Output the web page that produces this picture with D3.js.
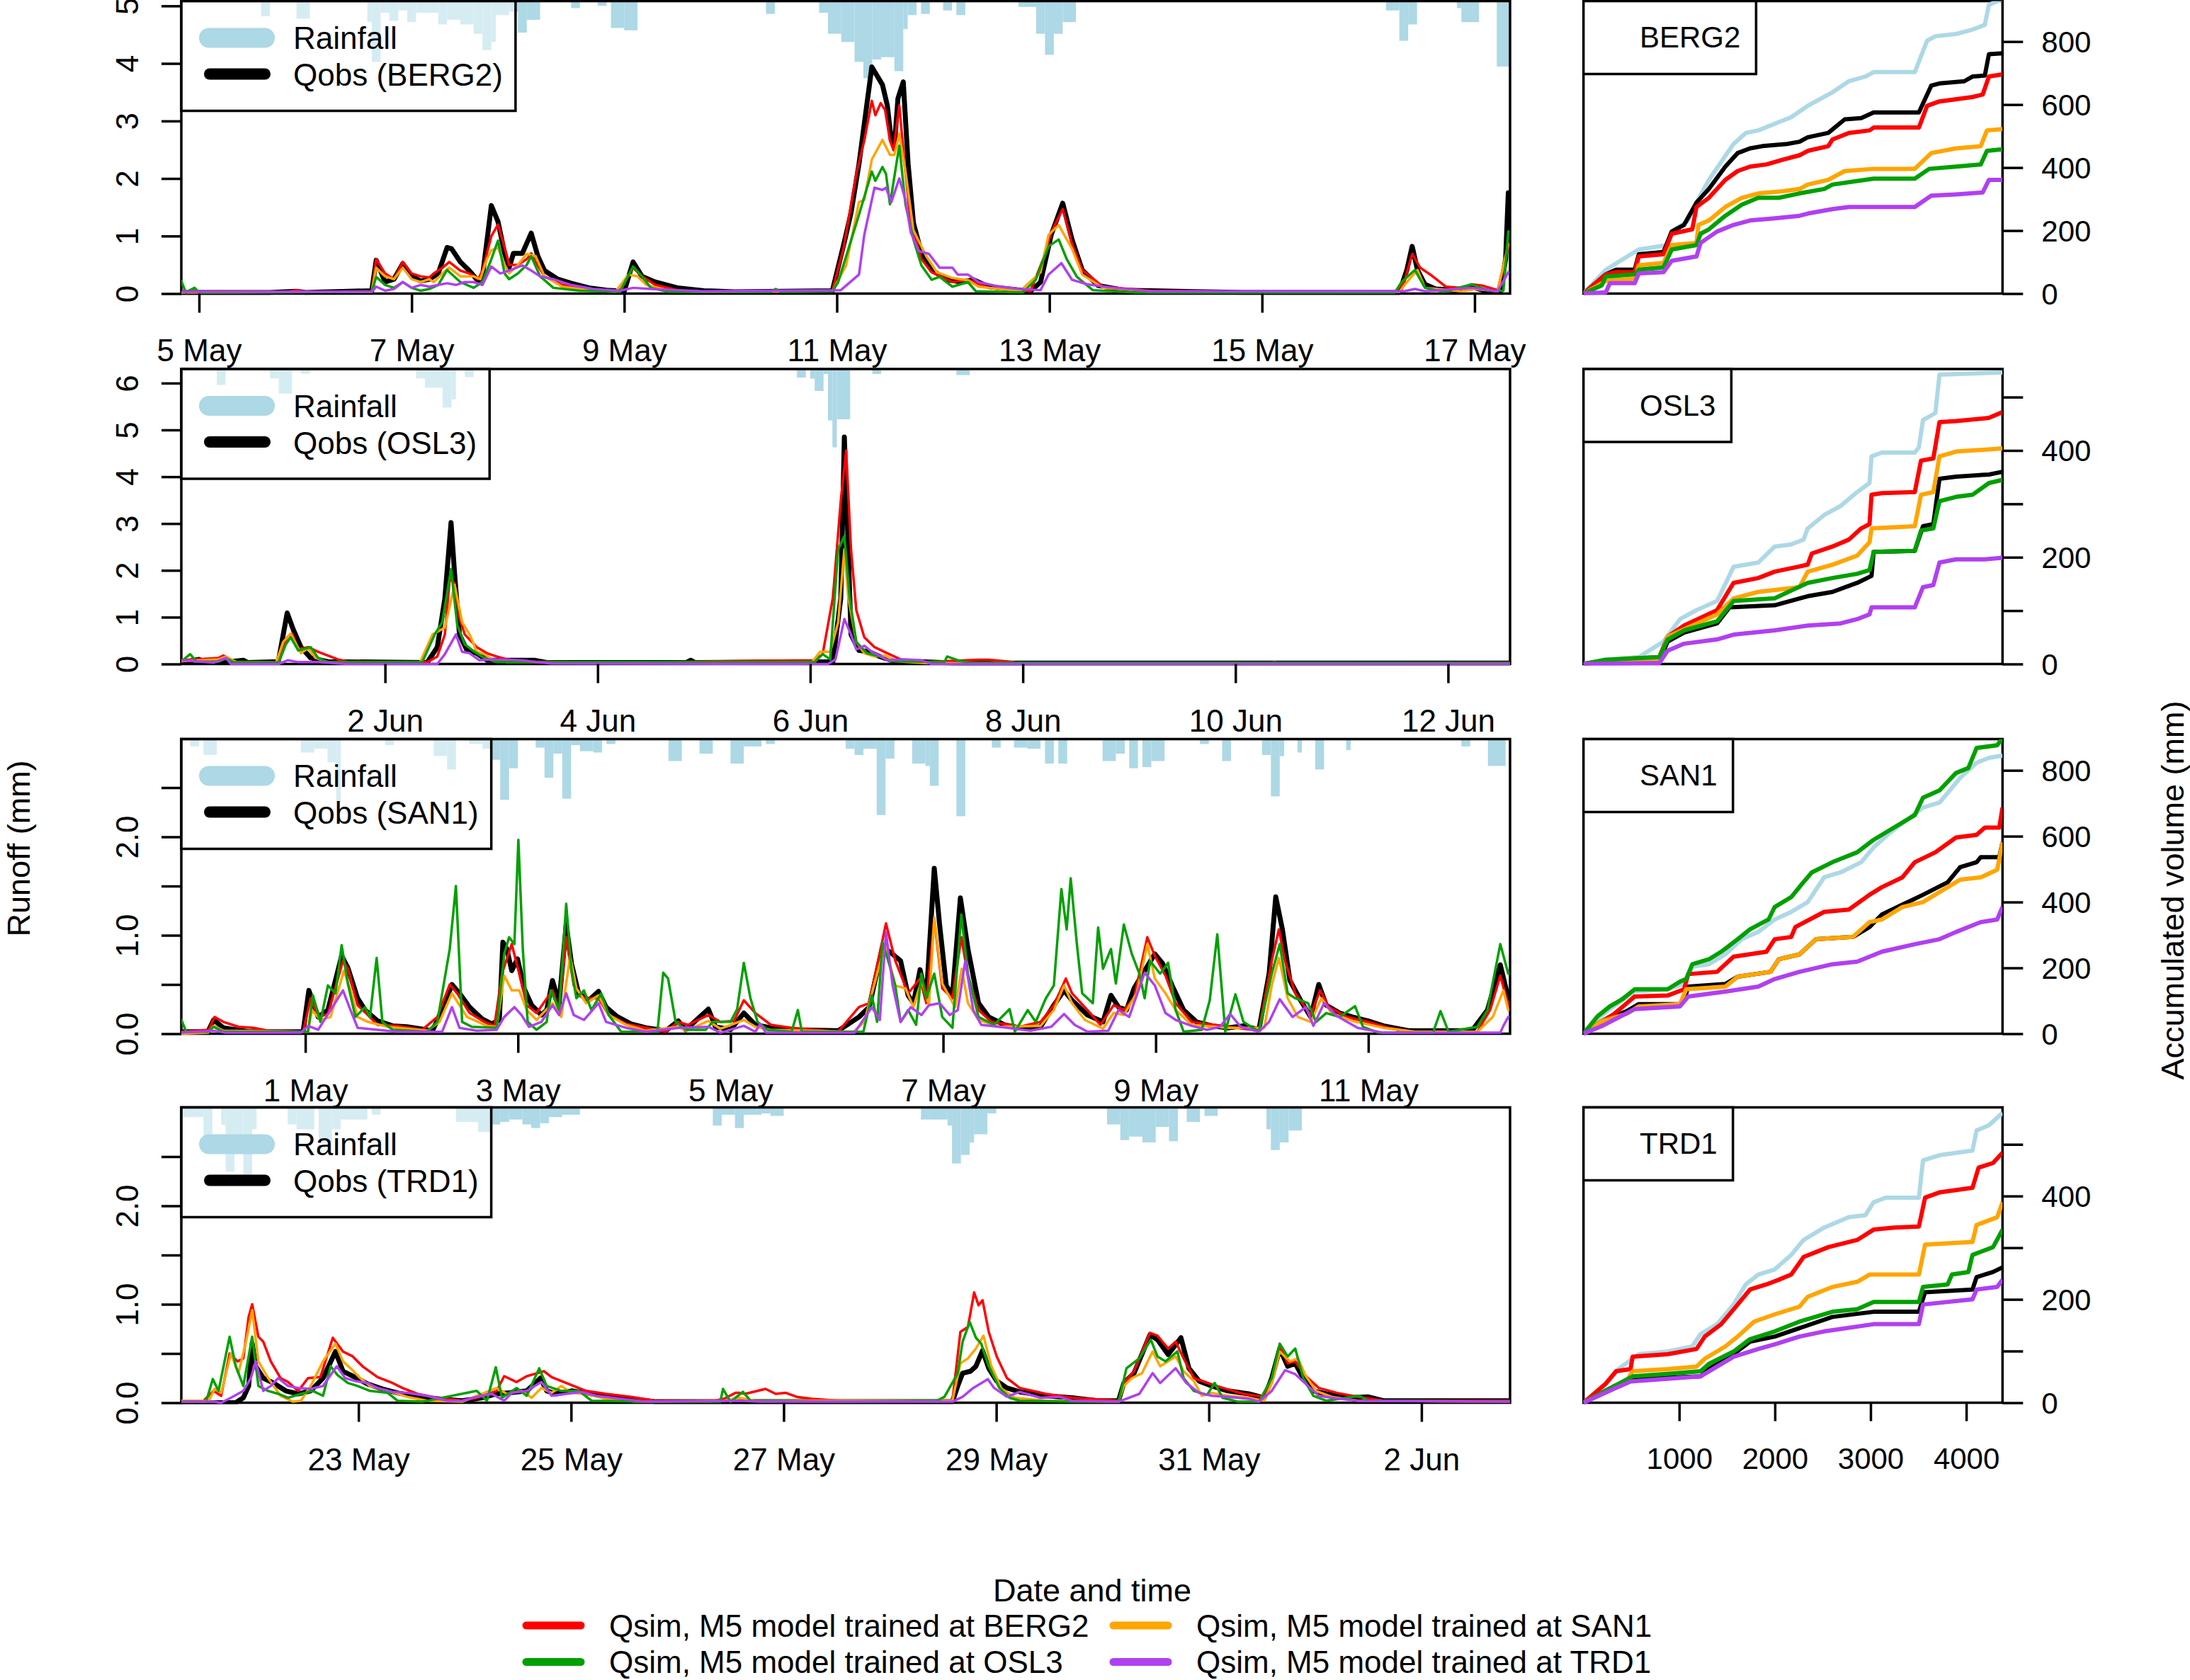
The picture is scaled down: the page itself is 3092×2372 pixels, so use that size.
<!DOCTYPE html>
<html>
<head>
<meta charset="utf-8">
<script src="https://cdnjs.cloudflare.com/ajax/libs/d3/7.8.5/d3.min.js"></script>
<style>
  body { margin: 0; background: #fff; }
  text { font-family: "Liberation Sans", Arial, sans-serif; fill: #000; }
</style>
</head>
<body>
<div id="chart"></div>
<script>
// stations, time windows (300 hourly steps each) and tick dates
var stations = ["BERG2", "OSL3", "SAN1", "TRD1"];
var startTimes = ["2017-05-04T20:00:00Z", "2017-05-31T02:00:00Z", "2017-04-29T20:00:00Z", "2017-05-21T08:00:00Z"];
var dayTicks = [
  ["2017-05-05", "2017-05-07", "2017-05-09", "2017-05-11", "2017-05-13", "2017-05-15", "2017-05-17"],
  ["2017-06-02", "2017-06-04", "2017-06-06", "2017-06-08", "2017-06-10", "2017-06-12"],
  ["2017-05-01", "2017-05-03", "2017-05-05", "2017-05-07", "2017-05-09", "2017-05-11"],
  ["2017-05-23", "2017-05-25", "2017-05-27", "2017-05-29", "2017-05-31", "2017-06-02"]
];
var runoffMax = [5.084, 6.301, 2.993, 3.0];
var runoffTicks = [[0, 1, 2, 3, 4, 5], [0, 1, 2, 3, 4, 5, 6], [0, 0.5, 1, 1.5, 2, 2.5], [0, 0.5, 1, 1.5, 2, 2.5]];
var cumMax = [928.6, 552.6, 895, 571.6];
var cumTicks = [[0, 200, 400, 600, 800], [0, 100, 200, 300, 400, 500], [0, 200, 400, 600, 800], [0, 100, 200, 300, 400, 500]];
var hourTicks = [1000, 2000, 3000, 4000];
var simLabels = ["Qsim, M5 model trained at BERG2", "Qsim, M5 model trained at OSL3", "Qsim, M5 model trained at SAN1", "Qsim, M5 model trained at TRD1"];

// rainfall bars: [from hour, to hour, mm]
var berg2Rain = [[18,20,1.3],[26,29,1.5],[42,43,1.8],[43,45,5.2],[45,47,1.0],[47,49,1.7],[49,51,0.8],[51,53,1.8],[53,58,1.0],[58,60,2.0],[60,63,1.6],[63,66,2.0],[66,68,2.8],[68,70,4.2],[70,71,3.5],[71,74,1.2],[74,76,0.9],[76,78,2.7],[78,81,1.6],[88,90,0.6],[94,96,0.4],[97,100,2.3],[100,103,2.5],[132,134,1.1],[144,146,1.0],[146,149,2.8],[149,152,3.5],[152,154,5.2],[154,156,6.6],[156,158,5.0],[158,161,4.8],[161,163,6.0],[163,164,2.4],[164,166,1.2],[167,169,1.1],[172,174,0.8],[175,177,1.2],[189,193,0.5],[193,195,2.8],[195,197,4.6],[197,199,2.8],[199,202,1.8],[272,275,0.8],[275,277,3.4],[277,279,2.0],[288,289,0.6],[289,293,1.8],[297,300,5.6]];
var osl3Rain = [[8,10,1.36],[20,22,0.8],[22,25,2.1],[27,29,0.4],[53,55,0.8],[55,59,1.6],[59,61,3.3],[61,62,2.6],[64,66,0.7],[139,141,0.73],[142,143,0.83],[143,145,1.88],[145,146,0.42],[146,147,4.4],[147,148,6.7],[148,151,4.3],[156,158,0.42],[175,178,0.52]];
var san1Rain = [[2,4,0.63],[5,8,1.36],[27,30,1.15],[30,33,0.83],[33,35,1.98],[35,36,5.4],[46,48,0.52],[57,60,1.46],[60,62,2.6],[65,68,0.42],[68,70,0.83],[70,72,1.77],[72,74,5.2],[74,76,2.5],[80,82,0.73],[82,84,3.3],[84,86,1.25],[86,88,5.1],[88,90,0.52],[90,93,1.04],[93,95,1.15],[96,98,0.42],[110,113,1.88],[117,120,1.25],[124,127,2.1],[127,131,0.63],[132,134,0.42],[150,152,0.83],[152,154,1.36],[154,157,0.83],[157,159,6.5],[159,161,1.67],[165,168,2.1],[168,169,2.3],[169,171,4.0],[175,177,6.6],[183,185,0.73],[188,191,0.73],[191,194,0.83],[195,197,2.1],[198,200,2.1],[208,211,1.88],[211,213,1.25],[214,216,2.5],[217,219,2.4],[219,222,1.88],[230,232,0.42],[235,237,1.88],[244,246,1.36],[246,248,4.9],[248,249,1.46],[252,253,1.15],[256,258,2.6],[263,264,0.94],[289,291,0.63],[295,299,2.3]];
var trd1Rain = [[0,5,0.83],[5,7,2.7],[9,10,1.5],[10,12,5.5],[12,14,3.3],[14,16,6.05],[16,17,1.88],[24,26,1.46],[26,30,1.88],[31,34,3.0],[34,36,1.88],[36,42,1.04],[43,45,0.63],[62,67,1.25],[67,70,2.1],[70,72,1.46],[72,74,1.25],[74,77,1.04],[77,79,1.46],[79,81,1.77],[81,83,1.36],[83,86,0.83],[86,90,0.63],[120,122,1.56],[122,125,0.63],[125,127,1.77],[127,131,0.63],[131,133,0.52],[133,136,0.73],[167,169,1.04],[169,173,1.04],[173,174,1.56],[174,176,4.8],[176,178,4.07],[178,179,3.0],[179,182,2.3],[182,184,0.52],[209,212,1.46],[212,214,2.8],[214,217,2.5],[217,220,3.0],[220,223,1.67],[223,225,2.9],[227,230,1.25],[231,234,0.73],[245,246,1.88],[246,248,3.65],[248,250,3.0],[250,253,1.98]];

// runoff series: [hour, mm]
var berg2Obs = [[0,0.02],[20,0.02],[26,0.04],[28,0.02],[43,0.05],[44,0.58],[46,0.2],[48,0.25],[50,0.52],[52,0.3],[54,0.22],[56,0.25],[58,0.35],[60,0.8],[61,0.78],[63,0.55],[65,0.4],[67,0.22],[68,0.3],[70,1.53],[71.5,1.25],[73,0.7],[74,0.45],[75,0.7],[77,0.7],[79,1.05],[80.5,0.65],[82,0.4],[85,0.25],[88,0.18],[92,0.1],[96,0.06],[100,0.04],[102,0.55],[104,0.3],[107,0.2],[112,0.1],[118,0.05],[125,0.03],[147,0.05],[149.7,0.9],[151.2,1.4],[153,2.25],[155.9,3.94],[158.3,3.63],[159.4,3.27],[160.3,2.66],[161,2.57],[161.8,3.39],[163,3.68],[164.1,2.25],[165.3,1.23],[167.1,0.7],[169.4,0.41],[172.9,0.24],[176.4,0.2],[178.8,0.24],[182.3,0.12],[187,0.08],[191.7,0.04],[194,0.2],[196.4,1.02],[199,1.57],[201.1,0.94],[203.4,0.41],[207,0.14],[212.8,0.06],[224.5,0.04],[240,0.02],[275,0.02],[276.7,0.41],[277.9,0.82],[279.1,0.41],[280.8,0.16],[283.2,0.08],[287.9,0.06],[292,0.1],[294.9,0.04],[297.8,0.04],[299,0.6],[299.6,1.75]];
var berg2SimBERG2 = [[0,0.03],[24,0.03],[26,0.06],[28,0.03],[43,0.04],[44,0.6],[46,0.35],[48,0.25],[50,0.55],[52,0.35],[54,0.3],[56,0.28],[57,0.35],[59,0.45],[60.5,0.55],[63,0.4],[65,0.35],[67,0.25],[68,0.4],[70,1.0],[71.5,1.2],[73,0.8],[74,0.5],[76,0.5],[78,0.6],[79,0.7],[80,0.55],[82,0.3],[86,0.15],[90,0.1],[95,0.06],[99,0.04],[102,0.45],[104,0.3],[107,0.15],[112,0.06],[118,0.03],[147,0.05],[149.5,0.78],[152.4,2.08],[154.2,2.66],[155.9,3.35],[156.7,3.1],[157.9,3.31],[158.9,3.19],[160,2.66],[160.8,2.49],[162.1,3.27],[163.3,2.25],[164.7,1.23],[167.1,0.6],[169.4,0.37],[174.1,0.2],[177.6,0.24],[182.3,0.1],[191.7,0.04],[194.6,0.6],[196.4,1.06],[199,1.47],[201.1,0.86],[203.4,0.41],[208.1,0.12],[218.7,0.05],[240,0.03],[274,0.03],[276.1,0.2],[277.9,0.69],[279.7,0.45],[282,0.33],[285.5,0.12],[289,0.1],[291.4,0.16],[293.7,0.14],[297.2,0.06],[299.6,0.82]];
var berg2SimSAN1 = [[0,0.02],[43,0.03],[44,0.45],[46,0.3],[48,0.25],[50,0.45],[52,0.25],[54,0.2],[56,0.25],[57,0.2],[59,0.35],[60.5,0.45],[63,0.3],[66,0.3],[67.5,0.25],[69,0.6],[70,0.75],[71.5,0.8],[73,0.5],[74,0.35],[76,0.5],[78,0.69],[80,0.65],[82,0.3],[86,0.12],[92,0.06],[98,0.03],[101,0.33],[103,0.3],[105,0.15],[110,0.05],[116,0.03],[147,0.04],[150.1,0.49],[153,1.59],[154.2,1.63],[155.9,2.33],[158.3,2.67],[160,2.41],[161,2.41],[162.1,2.78],[163.5,2.12],[165.3,1.1],[168.2,0.65],[170.6,0.37],[174.1,0.27],[177.6,0.23],[180,0.12],[189.3,0.04],[194,0.37],[195.8,1.02],[198.1,1.19],[201.1,0.78],[203.4,0.33],[208.1,0.1],[220,0.03],[275,0.03],[276.7,0.2],[279.1,0.41],[280.8,0.1],[289,0.04],[292,0.08],[297.2,0.04],[299.6,0.86]];
var berg2SimOSL3 = [[0,0.22],[1,0.02],[3,0.1],[4,0.02],[43,0.03],[44,0.29],[46,0.15],[48,0.1],[50,0.2],[52,0.1],[54,0.05],[56,0.08],[58,0.15],[60,0.41],[63,0.2],[66,0.1],[68,0.2],[70,0.6],[71.5,0.92],[73,0.35],[74,0.25],[76,0.35],[78,0.5],[79,0.65],[81,0.3],[84,0.1],[90,0.05],[99,0.03],[102,0.47],[104,0.3],[106,0.1],[110,0.03],[133,0.03],[134.2,0.08],[135.5,0.03],[147,0.04],[148.3,0.2],[153,1.37],[155.9,2.12],[156.7,1.96],[158.3,2.2],[159.1,2.08],[160,1.55],[162.1,2.57],[163.5,1.55],[165.3,0.94],[167.1,0.49],[169.4,0.24],[171.2,0.29],[174.1,0.12],[177.6,0.2],[179.4,0.04],[190,0.02],[192.9,0.24],[195.8,0.82],[198.1,0.94],[199.9,0.6],[202.2,0.29],[205.8,0.06],[215,0.02],[274,0.02],[275.5,0.2],[278.5,0.41],[280.8,0.1],[285,0.03],[291.4,0.16],[294.9,0.05],[298.5,0.05],[299.6,1.08]];
var berg2SimTRD1 = [[0,0.03],[43,0.03],[44,0.12],[46,0.05],[48,0.08],[50,0.2],[52,0.1],[54,0.15],[56,0.12],[58,0.15],[60,0.18],[62,0.15],[64,0.2],[66,0.2],[68,0.15],[70,0.47],[72,0.35],[74,0.4],[77,0.49],[79,0.4],[81,0.3],[84,0.25],[88,0.15],[93,0.08],[99,0.05],[102,0.1],[106,0.08],[112,0.06],[118,0.04],[148.9,0.06],[153,0.33],[154.2,1.02],[156.5,1.84],[158.3,1.8],[159.1,1.84],[160.3,1.59],[162.1,2.0],[163.5,1.63],[164.7,1.06],[166.5,0.74],[168.8,0.69],[171.2,0.45],[174.1,0.45],[175.3,0.33],[177.6,0.33],[180,0.2],[184.7,0.12],[189.3,0.08],[194,0.06],[195.8,0.33],[198.7,0.53],[201.1,0.24],[204.6,0.16],[210.5,0.1],[218.7,0.04],[276.1,0.04],[278.5,0.08],[280.8,0.04],[291.4,0.1],[297.2,0.04],[299.6,0.37]];

var osl3Obs = [[0,0.03],[4,0.1],[5,0.03],[8,0.08],[9,0.03],[14,0.08],[15,0.03],[21.9,0.05],[23.9,1.09],[25.3,0.73],[27,0.36],[29.2,0.13],[33.1,0.05],[55.5,0.03],[57.8,0.36],[59.5,1.4],[60.9,3.02],[61.7,1.93],[62.8,0.63],[64.5,0.29],[66.7,0.23],[69,0.08],[75.7,0.08],[79.7,0.08],[82.5,0.03],[114,0.03],[115,0.08],[116,0.03],[147.1,0.05],[148.9,1.41],[149.7,4.85],[150.4,2.97],[151.2,0.63],[153,0.29],[155.3,0.26],[157.7,0.16],[161.2,0.05],[167,0.05],[175,0.02],[300,0.02]];
var osl3SimBERG2 = [[0,0.08],[8.4,0.13],[9.5,0.18],[11.8,0.05],[21.9,0.03],[23.9,0.57],[25,0.65],[26.4,0.31],[28.6,0.36],[30.9,0.26],[33.1,0.18],[35.3,0.1],[37.6,0.05],[55.5,0.04],[57.8,0.16],[59.5,0.63],[60.6,1.82],[61.7,1.72],[62.8,0.99],[64,0.63],[66.7,0.36],[69,0.23],[71.2,0.16],[73.5,0.1],[78,0.05],[100,0.03],[143,0.08],[144.8,0.21],[147.1,1.41],[148.9,3.49],[150.1,4.56],[151.2,2.45],[152.4,1.15],[154.2,0.57],[156.5,0.36],[159.4,0.23],[162.4,0.1],[168.2,0.04],[180,0.09],[182.3,0.09],[185.8,0.06],[189.3,0.02],[246,0.02],[246.8,0.04],[247.6,0.02],[300,0.02]];
var osl3SimSAN1 = [[0,0.06],[8.4,0.1],[10.1,0.16],[12.4,0.04],[21.4,0.03],[23,0.47],[24.7,0.65],[27,0.23],[28.6,0.34],[30.3,0.13],[33.1,0.04],[53.9,0.04],[56.7,0.63],[59.5,0.78],[61.7,1.69],[63.4,0.89],[65.1,0.63],[66.7,0.26],[68.4,0.21],[70.1,0.1],[73.5,0.04],[142.4,0.04],[144.2,0.26],[146.5,0.26],[148.3,0.89],[149.7,2.45],[150.6,1.41],[152.4,0.47],[154.2,0.23],[156.5,0.16],[158.9,0.18],[161.2,0.06],[168.2,0.02],[300,0.02]];
var osl3SimOSL3 = [[0,0.08],[0.6,0.1],[2,0.21],[3.4,0.05],[8.4,0.05],[10.1,0.12],[11.8,0.04],[22,0.03],[23.6,0.42],[24.7,0.57],[26.4,0.29],[29.2,0.36],[30.9,0.13],[33.1,0.04],[54.4,0.04],[57.2,0.63],[58.9,0.89],[60.9,2.03],[62.3,0.83],[64,0.42],[66.2,0.26],[68.4,0.13],[71.2,0.04],[143,0.04],[144.8,0.21],[146.5,0.1],[148.3,2.45],[149.7,2.73],[150.9,1.41],[152.4,0.47],[154.8,0.23],[157.7,0.16],[160,0.06],[172.3,0.04],[172.9,0.16],[175.3,0.08],[177.6,0.03],[300,0.02]];
var osl3SimTRD1 = [[0,0.08],[7.3,0.03],[10.1,0.13],[11.2,0.0],[21.9,0.0],[24.1,0.08],[26.4,0.04],[30.9,0.04],[37.6,0.0],[57.8,0.0],[59.5,0.21],[62,0.63],[63.4,0.26],[65.1,0.23],[67.3,0.08],[70.1,0.1],[73.5,0.09],[76.9,0.08],[80.2,0.04],[83.6,0.01],[146,0.0],[147.7,0.1],[149.7,0.96],[151.2,0.63],[152.4,0.31],[154.2,0.39],[155.9,0.26],[157.7,0.18],[159.4,0.08],[163.5,0.1],[167,0.08],[169.4,0.0],[300,0.0]];

var san1Obs = [[0,0.02],[6,0.02],[7.3,0.14],[9.5,0.06],[15.2,0.02],[27.5,0.02],[28.8,0.44],[30.9,0.17],[33.1,0.24],[36.2,0.79],[37.6,0.67],[39.8,0.36],[41.5,0.24],[44.3,0.13],[47.7,0.08],[51,0.07],[56.7,0.03],[58.9,0.24],[61.1,0.5],[62.8,0.41],[65.1,0.27],[67.9,0.15],[70.1,0.1],[71.8,0.14],[72.6,0.93],[73.5,0.86],[74.6,0.64],[75.9,0.76],[77.4,0.46],[79.1,0.29],[81.3,0.19],[82.5,0.24],[83.8,0.54],[85.3,0.31],[86.9,1.11],[88.1,0.71],[89.7,0.41],[92,0.34],[94.2,0.43],[95.9,0.27],[98.2,0.18],[101.5,0.1],[104.9,0.06],[109.4,0.03],[112.2,0.13],[113.9,0.04],[119,0.25],[120.6,0.07],[124,0.04],[127,0.21],[129.6,0.09],[133.1,0.06],[138.9,0.04],[148.3,0.03],[153,0.17],[155.3,0.27],[158.3,0.88],[160,0.83],[162.4,0.74],[164.1,0.39],[165.3,0.31],[166.8,0.65],[168.2,0.36],[170,1.68],[171.2,1.11],[172.7,0.49],[174.1,0.39],[175.9,1.38],[177.6,0.86],[180,0.31],[182.3,0.17],[185.8,0.09],[189.3,0.06],[194,0.07],[197,0.29],[199.3,0.44],[201.1,0.34],[204.6,0.19],[208.1,0.12],[209.9,0.39],[211.6,0.27],[213.4,0.24],[215.1,0.46],[217.5,0.64],[219.8,0.81],[221.6,0.71],[224,0.46],[226.3,0.24],[229.2,0.12],[232.7,0.08],[236.3,0.06],[239.8,0.08],[243.3,0.04],[245.6,0.61],[247.1,1.39],[248.6,1.06],[250.3,0.54],[252.7,0.34],[255,0.17],[256.8,0.5],[258.5,0.29],[261.5,0.21],[264.4,0.17],[267.9,0.13],[271.4,0.08],[277.3,0.03],[291.4,0.03],[294.9,0.24],[297.8,0.7],[299.6,0.36]];
var san1SimBERG2 = [[0,0.02],[6.2,0.04],[7.5,0.17],[9.5,0.12],[12.9,0.07],[16.3,0.06],[19.6,0.03],[27.5,0.02],[29.2,0.36],[30.9,0.17],[33.1,0.2],[36.5,0.74],[37.6,0.66],[39.8,0.29],[42.1,0.19],[44.3,0.09],[48.8,0.08],[54.4,0.04],[57.8,0.17],[60.6,0.5],[62.3,0.41],[65.1,0.21],[68.4,0.12],[70.7,0.08],[72.4,0.61],[74.6,0.91],[76.3,0.61],[78,0.29],[80.2,0.21],[83.8,0.44],[85.3,0.24],[86.9,0.98],[88.6,0.49],[90.9,0.36],[94.2,0.36],[96.5,0.19],[100.4,0.1],[104.9,0.06],[109.4,0.02],[112.2,0.12],[114.4,0.09],[119,0.19],[121.7,0.12],[124.8,0.13],[127,0.34],[129.6,0.21],[133.1,0.09],[137.8,0.06],[148.3,0.02],[153,0.27],[155.3,0.31],[159.1,1.12],[161.2,0.74],[164.1,0.41],[166.8,0.56],[168.2,0.31],[170,1.16],[171.8,0.46],[174.1,0.36],[176.1,0.98],[177.6,0.59],[180,0.24],[182.9,0.12],[189.3,0.07],[194,0.12],[197,0.29],[199.7,0.56],[201.1,0.41],[204.6,0.24],[207.5,0.09],[210.5,0.29],[212.8,0.24],[215.1,0.36],[218.1,0.98],[219.8,0.79],[222.2,0.59],[224.5,0.31],[228.1,0.12],[236.3,0.07],[243.3,0.03],[246.2,0.74],[247.8,1.06],[249.2,0.74],[251.5,0.41],[255,0.19],[257.1,0.44],[259.1,0.27],[263.2,0.17],[267.9,0.12],[272.6,0.06],[278.5,0.02],[292.6,0.02],[295.5,0.24],[297.8,0.59],[299.6,0.29]];
var san1SimSAN1 = [[0,0.0],[6,0.01],[7.3,0.08],[9.5,0.03],[28.6,0.02],[29.5,0.24],[31.4,0.14],[33.7,0.17],[36.7,0.64],[38.1,0.46],[39.8,0.17],[42.1,0.12],[46.6,0.07],[55.5,0.03],[58.3,0.12],[61.1,0.41],[62.8,0.29],[64.5,0.17],[69,0.08],[71.2,0.07],[72.9,0.59],[74.6,0.44],[76.3,0.44],[78,0.24],[80.2,0.14],[83.8,0.31],[85.8,0.17],[87.8,0.79],[89.2,0.46],[91.4,0.31],[94.2,0.39],[96.5,0.19],[100.4,0.09],[104.9,0.03],[112.2,0.07],[114,0.03],[119,0.13],[121.7,0.05],[127,0.14],[129.6,0.07],[133,0.04],[151.8,0.02],[154.2,0.12],[158.9,0.91],[161.2,0.49],[163.5,0.46],[165.3,0.27],[167.1,0.54],[168.8,0.29],[170,1.18],[171.8,0.51],[174.7,0.27],[176.2,0.66],[177.6,0.31],[180,0.14],[184.7,0.07],[194,0.08],[197,0.24],[199.3,0.49],[201.1,0.31],[204,0.14],[208.1,0.05],[210.5,0.21],[212.8,0.19],[215.7,0.41],[218.1,0.91],[219.8,0.56],[222.2,0.41],[224.5,0.24],[228.1,0.09],[236.3,0.06],[244.5,0.06],[246.2,0.49],[247.8,0.77],[249.8,0.36],[252.1,0.17],[255,0.12],[257.4,0.36],[259.7,0.21],[264.4,0.13],[271.4,0.06],[278.5,0.02],[292.6,0.02],[296.1,0.17],[298.5,0.44],[299.6,0.24]];
var san1SimOSL3 = [[0,0.14],[1.1,0.02],[6,0.02],[7.3,0.07],[9.5,0.02],[28.6,0.02],[29.7,0.39],[31.4,0.12],[33.1,0.49],[34.8,0.41],[36.2,0.9],[37.6,0.51],[39.3,0.17],[41.5,0.27],[42.6,0.17],[44.1,0.77],[45.4,0.12],[47.7,0.04],[55.5,0.02],[57.8,0.12],[60.6,0.86],[62,1.5],[63.4,0.12],[65.6,0.07],[71.2,0.06],[72.9,0.81],[74,0.98],[75.2,0.91],[76.1,1.97],[77.1,0.86],[78.2,0.12],[80.2,0.04],[82.5,0.12],[83.4,0.44],[85.3,0.24],[86.9,1.32],[88.1,0.64],[89.2,0.36],[90.9,0.44],[92.6,0.24],[94.8,0.41],[96.5,0.19],[99.3,0.02],[107.5,0.02],[108.8,0.62],[109.9,0.56],[111.6,0.12],[113.9,0.04],[118.4,0.04],[120,0.12],[124,0.12],[125.5,0.25],[127,0.72],[128.5,0.36],[130.1,0.12],[132.3,0.04],[137.8,0.02],[139.2,0.24],[140.1,0.02],[154,0.02],[155.9,0.39],[157.1,0.12],[158.3,0.93],[159.8,0.71],[161.2,0.49],[162.4,0.12],[164.1,0.24],[165.9,0.09],[167.1,0.61],[168.2,0.36],[170,0.61],[171.8,0.17],[174.1,0.06],[176.1,1.21],[177.6,0.61],[180,0.17],[183.5,0.09],[187,0.25],[188.2,0.02],[191.1,0.24],[192.9,0.12],[195.2,0.36],[197,0.49],[198.7,1.47],[199.9,1.06],[200.8,1.58],[202.2,0.91],[203.4,0.41],[205.8,0.31],[207,1.08],[208.1,0.66],[209.9,0.86],[211,0.51],[212.8,1.11],[214.6,0.81],[216.3,0.61],[217.5,0.36],[218.7,0.74],[221,0.61],[222.8,0.72],[224.5,0.24],[226.3,0.02],[230.4,0.04],[232.2,0.34],[233.9,1.01],[235.7,0.02],[238,0.4],[239.8,0.12],[243.3,0.02],[246.2,0.61],[248,0.91],[249.8,0.41],[251.5,0.36],[254.4,0.31],[256.2,0.12],[258.5,0.21],[261.5,0.17],[265,0.28],[266.8,0.07],[270.3,0.01],[282.6,0.01],[284.3,0.23],[286.1,0.02],[292.6,0.07],[294.9,0.24],[297.8,0.91],[299.6,0.61]];
var san1SimTRD1 = [[0,0.01],[7.3,0.03],[10,0.01],[27,0.01],[28.6,0.08],[30.9,0.04],[36.5,0.44],[38.2,0.24],[39.8,0.06],[44.3,0.04],[48.8,0.02],[58.9,0.02],[61.1,0.27],[62.8,0.06],[66.7,0.03],[71.2,0.04],[72.9,0.17],[75.2,0.27],[76.8,0.19],[78.5,0.07],[81.3,0.12],[83.8,0.29],[85.3,0.19],[86.9,0.41],[88.6,0.19],[90.9,0.14],[94.2,0.31],[95.9,0.12],[100.4,0.06],[104.9,0.02],[112.2,0.06],[119,0.07],[121.7,0.01],[127,0.08],[129.6,0.02],[130.7,0.1],[132,0.01],[152,0.01],[155.9,0.27],[157.7,0.14],[159.1,1.03],[160.6,0.49],[162.4,0.12],[164.7,0.27],[167.1,0.19],[168.8,0.29],[171.2,0.31],[173.5,0.19],[175.3,0.24],[177,0.74],[178.8,0.24],[180.6,0.09],[184.7,0.07],[191.7,0.03],[196.4,0.07],[199.3,0.2],[201.7,0.09],[204.6,0.02],[209.3,0.03],[211.6,0.24],[214,0.17],[217.5,0.62],[219.8,0.49],[222.2,0.21],[224.5,0.14],[228.1,0.08],[231.6,0.04],[234.5,0.07],[236.8,0.2],[239.2,0.07],[243.3,0.02],[245.6,0.12],[248,0.35],[250.9,0.17],[253.9,0.27],[255.6,0.08],[258,0.31],[260.9,0.18],[265.6,0.06],[271.4,0.01],[297.8,0.01],[298.5,0.08],[299.6,0.17]];

var trd1Obs = [[0,0],[12.3,0],[14,0.05],[15.2,0.17],[16,0.6],[16.8,0.37],[18.5,0.25],[20.8,0.2],[23.6,0.12],[26.4,0.09],[29.2,0.12],[32,0.25],[34.8,0.52],[36.5,0.32],[38.7,0.27],[42.1,0.19],[45.4,0.14],[48.8,0.1],[53.3,0.06],[57.8,0.04],[63.4,0.02],[67.9,0.05],[71.2,0.09],[74,0.1],[78,0.12],[81.1,0.25],[82.5,0.12],[84.7,0.09],[88.1,0.12],[91.4,0.1],[95.9,0.06],[101.5,0.04],[107.1,0.01],[174.1,0.01],[175.3,0.17],[176.4,0.3],[178.2,0.32],[179.4,0.37],[180.9,0.53],[182.3,0.35],[184.1,0.22],[186.4,0.15],[189.3,0.11],[195.2,0.07],[201.1,0.05],[207,0.02],[211.6,0.02],[212.8,0.2],[215.1,0.3],[218.7,0.69],[220.4,0.64],[222.8,0.49],[225.7,0.66],[227.5,0.35],[229.8,0.22],[232.7,0.17],[236.3,0.12],[241,0.09],[244.5,0.05],[246.2,0.25],[248,0.55],[249.8,0.37],[251.5,0.4],[253.3,0.25],[255.6,0.12],[258.5,0.09],[263.2,0.05],[267.9,0.06],[271.4,0.02],[300,0.02]];
var trd1SimBERG2 = [[0,0.02],[5,0.02],[7.3,0.12],[9,0.07],[10.9,0.5],[12.7,0.42],[14,0.45],[15.2,0.87],[16,1.0],[17.4,0.67],[18.5,0.62],[20.2,0.42],[22.4,0.25],[24.1,0.21],[26.4,0.12],[28.6,0.25],[31.4,0.26],[34.2,0.66],[36.5,0.52],[38.7,0.47],[40.9,0.37],[44.3,0.26],[47.7,0.2],[49.9,0.15],[53.3,0.09],[57.8,0.05],[63.4,0.02],[66.7,0.05],[71.2,0.12],[72.9,0.27],[75.7,0.21],[78,0.27],[81.9,0.32],[83.6,0.26],[86.9,0.2],[91.4,0.12],[95.9,0.09],[101.5,0.06],[107.1,0.02],[119.5,0.01],[122.5,0.04],[125.1,0.1],[126,0.1],[127.3,0.09],[131.9,0.14],[134.2,0.09],[136.5,0.1],[138.9,0.06],[142.4,0.04],[148.3,0.02],[174.1,0.02],[175.9,0.72],[177.6,0.77],[179,1.12],[180,0.99],[180.9,1.04],[182.3,0.72],[184.1,0.47],[186.4,0.25],[189.3,0.15],[195.2,0.09],[201.1,0.05],[211.6,0.02],[212.8,0.2],[215.1,0.32],[218.7,0.71],[220.4,0.68],[222.8,0.55],[224.5,0.62],[226.3,0.45],[228.6,0.25],[231.6,0.2],[235.1,0.15],[239.8,0.09],[244.5,0.06],[246.2,0.2],[248,0.58],[249.8,0.4],[251.5,0.42],[253.9,0.27],[256.8,0.15],[260.9,0.1],[265.6,0.06],[271.4,0.02],[300,0.02]];
var trd1SimSAN1 = [[0,0.02],[6.2,0.02],[7.5,0.14],[9,0.1],[11.2,0.5],[12.9,0.3],[14.6,0.62],[16,0.94],[17.4,0.42],[19.6,0.25],[22.4,0.07],[25.2,0.01],[27,0.02],[29.2,0.17],[32,0.42],[34.8,0.6],[36.5,0.42],[38.2,0.35],[40.4,0.25],[42.6,0.17],[46.6,0.12],[51,0.06],[55.5,0.02],[63.4,0.01],[66.7,0.07],[71.2,0.15],[73.5,0.09],[76.8,0.12],[79.1,0.05],[81.3,0.15],[83.6,0.1],[85.8,0.17],[88.1,0.1],[91.4,0.09],[95.9,0.04],[102.6,0.01],[122.5,0.02],[126,0.05],[129.5,0.02],[174.1,0.02],[175.9,0.4],[177.6,0.45],[179.4,0.55],[181.1,0.68],[182.9,0.37],[185.2,0.14],[188.2,0.05],[195.2,0.02],[211.6,0.01],[212.8,0.17],[214.6,0.25],[216.9,0.3],[219.3,0.52],[221,0.37],[222.8,0.42],[224.5,0.47],[226.3,0.32],[228.6,0.22],[230.4,0.07],[232.7,0.1],[236.3,0.07],[241,0.05],[244.5,0.02],[246.2,0.2],[248,0.52],[250.3,0.42],[252.1,0.45],[253.9,0.27],[256.2,0.12],[259.7,0.06],[265.6,0.02],[300,0.01]];
var trd1SimOSL3 = [[0,0.01],[5.6,0.01],[7.1,0.24],[8.4,0.12],[10.9,0.67],[12.3,0.37],[14,0.17],[16,0.67],[17.4,0.17],[19.6,0.12],[21.9,0.09],[24.1,0.05],[27,0.09],[29.7,0.12],[32,0.07],[33.7,0.37],[35.3,0.28],[37.6,0.2],[39.8,0.17],[42.6,0.12],[46.6,0.1],[48.8,0.02],[54.4,0.01],[66.7,0.12],[69,0.02],[71,0.36],[72.4,0.05],[75.7,0.15],[78,0.07],[80.8,0.35],[82.5,0.17],[85.8,0.12],[89.8,0.12],[92.6,0.02],[104.9,0.01],[121.7,0.01],[122.3,0.14],[124,0.01],[126.8,0.11],[128.5,0.02],[148,0.01],[170.6,0.02],[172.3,0.06],[175.3,0.3],[176.4,0.62],[178,0.82],[179.4,0.66],[180.6,0.6],[182.3,0.37],[184.7,0.15],[187,0.05],[189.3,0.02],[201.1,0.01],[211.6,0.01],[213.4,0.35],[216.3,0.45],[218.9,0.64],[220.4,0.47],[222.2,0.42],[224.9,0.52],[226.3,0.25],[228.6,0.12],[231.6,0.08],[233.3,0.2],[235.1,0.05],[238.6,0.01],[243.3,0.01],[246.2,0.25],[248,0.6],[249.8,0.47],[251.5,0.55],[253.3,0.25],[255.6,0.07],[258.5,0.02],[266,0.07],[267.9,0.02],[300,0.01]];
var trd1SimTRD1 = [[0,0.01],[7.3,0.01],[9,0.0],[11.2,0.05],[14,0.12],[15.7,0.25],[16.8,0.42],[18.5,0.12],[20.2,0.17],[21.9,0.25],[24.1,0.17],[26.4,0.15],[29.2,0.14],[32,0.17],[35.1,0.37],[37,0.25],[39.3,0.22],[42.1,0.2],[44.3,0.15],[47.7,0.11],[51,0.1],[55.5,0.07],[60,0.02],[63.4,0.02],[66.7,0.06],[70.1,0.09],[72.9,0.02],[74.6,0.1],[78,0.12],[81.3,0.21],[83.6,0.07],[86.9,0.09],[90.3,0.11],[93.7,0.07],[99.3,0.04],[104.9,0.01],[126,0.02],[130.7,0.01],[174.1,0.01],[176.4,0.06],[178.8,0.15],[182.1,0.24],[183.5,0.15],[186.4,0.06],[189.3,0.11],[194,0.05],[198.1,0.06],[201.1,0.02],[211.6,0.01],[216.3,0.09],[219.3,0.3],[221,0.2],[224.5,0.35],[226.9,0.2],[229.8,0.1],[232.7,0.07],[236.3,0.06],[241,0.04],[243.3,0.01],[246.2,0.12],[249.2,0.33],[251.5,0.29],[253.9,0.19],[256.8,0.07],[259.7,0.05],[265.6,0.02],[300,0.01]];

// accumulated volumes over the whole season: [hour, mm]
var berg2CumRain = [[0,0],[233,75],[363,100],[578,140],[879,154],[922,197],[1094,232],[1181,289],[1310,361],[1439,418],[1568,475],[1697,510],[1826,518],[1998,539],[2171,560],[2343,596],[2601,639],[2773,674],[2946,689],[3032,703],[3462,703],[3591,803],[3677,817],[3893,824],[4065,838],[4194,853],[4237,917],[4379,935]];
var berg2CumObs = [[0,0],[233,61],[341,76],[535,76],[578,125],[836,132],[922,197],[1051,218],[1181,289],[1310,332],[1482,403],[1611,446],[1740,461],[1869,468],[2128,475],[2257,482],[2343,496],[2558,510],[2730,553],[2902,557],[3032,575],[3505,575],[3634,660],[3720,667],[3979,674],[4065,689],[4194,692],[4237,760],[4379,763]];
var berg2CumBERG2 = [[0,0],[233,61],[341,68],[535,68],[578,118],[836,125],[922,190],[1137,204],[1181,275],[1310,304],[1482,361],[1611,389],[1740,403],[1912,410],[2085,425],[2257,439],[2343,453],[2558,468],[2601,489],[2773,510],[2989,518],[3032,527],[3505,527],[3591,596],[3720,610],[4065,624],[4172,632],[4237,689],[4379,696]];
var berg2CumOSL3 = [[0,0],[190,26],[233,54],[535,61],[578,76],[836,83],[922,140],[1181,154],[1224,190],[1310,204],[1482,247],[1654,282],[1826,304],[2041,304],[2257,318],[2515,332],[2601,346],[3032,365],[3462,365],[3613,396],[3893,403],[4151,410],[4216,453],[4379,458]];
var berg2CumSAN1 = [[0,0],[233,40],[535,47],[578,90],[836,97],[922,154],[1181,161],[1202,218],[1310,232],[1482,275],[1654,304],[1826,318],[2085,325],[2257,332],[2343,346],[2558,361],[2730,389],[3032,396],[3462,396],[3634,446],[3893,461],[4151,468],[4216,518],[4379,522]];
var berg2CumTRD1 = [[0,0],[233,4],[276,33],[535,33],[578,64],[836,68],[922,104],[1181,118],[1224,161],[1396,197],[1568,218],[1740,232],[1998,239],[2257,247],[2343,254],[2601,268],[2773,275],[3462,275],[3634,311],[3893,315],[4172,321],[4237,361],[4379,361]];

var osl3CumRain = [[0,0],[233,8],[578,13],[836,42],[1008,84],[1181,101],[1396,118],[1568,182],[1826,190],[1998,220],[2171,224],[2300,233],[2343,254],[2515,279],[2687,296],[2860,322],[2989,339],[3010,389],[3118,396],[3462,396],[3505,406],[3548,457],[3677,470],[3720,542],[4379,546]];
var osl3CumObs = [[0,0],[233,5],[793,5],[879,42],[1051,59],[1396,76],[1525,106],[1998,110],[2343,127],[2601,135],[2860,152],[3010,165],[3032,210],[3462,212],[3548,258],[3656,262],[3720,347],[3893,351],[4237,355],[4379,360]];
var osl3CumBERG2 = [[0,0],[233,7],[793,13],[879,51],[1051,72],[1396,101],[1568,152],[1826,161],[1998,173],[2343,186],[2386,207],[2601,220],[2773,233],[2902,254],[2989,262],[3010,317],[3118,320],[3462,322],[3527,381],[3656,385],[3720,453],[3893,455],[4237,461],[4379,472]];
var osl3CumOSL3 = [[0,0],[233,8],[793,13],[879,46],[1051,63],[1396,80],[1568,118],[1998,123],[2343,152],[2601,161],[2860,169],[2989,176],[3032,210],[3462,212],[3527,250],[3656,254],[3720,305],[3893,313],[4065,317],[4237,339],[4379,345]];
var osl3CumSAN1 = [[0,0],[233,4],[793,8],[879,51],[1396,93],[1568,123],[1826,135],[2257,144],[2343,173],[2601,186],[2860,203],[2989,228],[3010,254],[3462,258],[3527,317],[3656,322],[3720,389],[3893,398],[4237,402],[4379,404]];
var osl3CumTRD1 = [[0,0],[793,2],[879,25],[1051,38],[1396,46],[1568,55],[1998,63],[2343,72],[2687,76],[2860,84],[2989,93],[3010,106],[3462,106],[3548,144],[3656,148],[3720,190],[3893,196],[4194,196],[4379,199]];

var san1CumRain = [[0,0],[147,45],[276,75],[535,128],[879,135],[1051,151],[1137,204],[1310,211],[1482,241],[1654,287],[1826,309],[1998,347],[2171,370],[2343,400],[2515,475],[2687,490],[2902,521],[3032,566],[3204,611],[3376,649],[3548,687],[3720,702],[3850,747],[3936,777],[4108,823],[4237,838],[4379,845]];
var san1CumObs = [[0,0],[190,38],[449,68],[578,90],[1008,90],[1073,121],[1094,143],[1482,151],[1611,173],[1955,188],[2041,226],[2257,241],[2429,287],[2816,294],[2989,324],[3118,362],[3333,392],[3548,422],[3806,460],[3936,506],[4108,521],[4151,536],[4345,536],[4379,581]];
var san1CumBERG2 = [[0,0],[147,30],[320,60],[535,113],[879,116],[1051,135],[1094,181],[1396,188],[1568,234],[1912,249],[1998,287],[2171,294],[2214,324],[2515,370],[2773,377],[2989,422],[3118,445],[3333,475],[3462,521],[3677,551],[3893,596],[4108,604],[4194,626],[4345,626],[4379,687]];
var san1CumOSL3 = [[0,0],[147,53],[276,83],[406,105],[535,135],[879,135],[1008,158],[1073,166],[1137,211],[1310,226],[1439,249],[1611,287],[1740,317],[1934,347],[1998,385],[2171,415],[2278,453],[2386,490],[2601,521],[2860,551],[3032,589],[3204,619],[3462,664],[3548,717],[3720,739],[3893,792],[4022,807],[4108,868],[4323,876],[4379,898]];
var san1CumSAN1 = [[0,0],[190,38],[449,60],[578,83],[1008,90],[1073,135],[1482,143],[1611,173],[1955,188],[2041,226],[2257,241],[2429,287],[2816,294],[2989,339],[3118,347],[3333,385],[3548,400],[3806,445],[3936,468],[4151,475],[4323,498],[4379,581]];
var san1CumTRD1 = [[0,0],[190,23],[535,75],[1008,83],[1094,113],[1482,128],[1826,143],[1998,166],[2257,188],[2601,211],[2860,219],[3118,249],[3462,272],[3720,287],[3893,309],[4151,339],[4323,347],[4379,385]];

var trd1CumRain = [[0,0],[190,27],[363,65],[578,94],[879,99],[1137,109],[1224,133],[1396,152],[1568,190],[1697,229],[1826,248],[1998,258],[2171,286],[2300,315],[2515,339],[2773,359],[2946,363],[3032,388],[3161,397],[3505,397],[3548,469],[3720,479],[4065,488],[4108,527],[4237,537],[4379,561]];
var trd1CumObs = [[0,0],[320,32],[513,46],[1224,51],[1310,65],[1568,94],[1740,118],[1998,128],[2300,147],[2601,166],[3032,176],[3505,176],[3570,214],[4065,219],[4108,243],[4280,253],[4379,262]];
var trd1CumBERG2 = [[0,0],[233,37],[341,61],[492,65],[513,89],[879,94],[1181,104],[1267,128],[1439,152],[1611,190],[1740,219],[1912,229],[2041,238],[2171,248],[2300,282],[2558,301],[2860,315],[3032,335],[3247,339],[3505,341],[3570,397],[3720,407],[4065,416],[4129,455],[4280,464],[4379,484]];
var trd1CumOSL3 = [[0,0],[320,32],[513,51],[879,56],[1224,61],[1310,75],[1568,99],[1740,123],[1998,138],[2257,157],[2601,176],[2860,181],[3032,195],[3505,195],[3548,224],[3806,229],[3850,248],[4022,253],[4065,286],[4280,301],[4379,335]];
var trd1CumSAN1 = [[0,0],[276,27],[449,41],[513,61],[879,65],[1181,70],[1267,85],[1482,109],[1611,128],[1783,157],[1998,171],[2257,186],[2343,205],[2601,224],[2860,234],[2989,248],[3505,248],[3570,306],[4065,311],[4108,344],[4323,359],[4379,388]];
var trd1CumTRD1 = [[0,0],[320,27],[492,41],[1224,51],[1396,70],[1568,89],[1826,104],[1998,113],[2257,128],[2515,138],[3032,152],[3505,152],[3548,190],[4065,200],[4108,219],[4323,224],[4379,238]];

// table built from the arrays above (sim order: BERG2, OSL3, SAN1, TRD1)
var panels = [
  { rain: berg2Rain, obs: berg2Obs, sims: [berg2SimBERG2, berg2SimOSL3, berg2SimSAN1, berg2SimTRD1],
    cumRain: berg2CumRain, cumObs: berg2CumObs, cumSims: [berg2CumBERG2, berg2CumOSL3, berg2CumSAN1, berg2CumTRD1] },
  { rain: osl3Rain, obs: osl3Obs, sims: [osl3SimBERG2, osl3SimOSL3, osl3SimSAN1, osl3SimTRD1],
    cumRain: osl3CumRain, cumObs: osl3CumObs, cumSims: [osl3CumBERG2, osl3CumOSL3, osl3CumSAN1, osl3CumTRD1] },
  { rain: san1Rain, obs: san1Obs, sims: [san1SimBERG2, san1SimOSL3, san1SimSAN1, san1SimTRD1],
    cumRain: san1CumRain, cumObs: san1CumObs, cumSims: [san1CumBERG2, san1CumOSL3, san1CumSAN1, san1CumTRD1] },
  { rain: trd1Rain, obs: trd1Obs, sims: [trd1SimBERG2, trd1SimOSL3, trd1SimSAN1, trd1SimTRD1],
    cumRain: trd1CumRain, cumObs: trd1CumObs, cumSims: [trd1CumBERG2, trd1CumOSL3, trd1CumSAN1, trd1CumTRD1] }
];

// ---- layout ----
var W = 3092, H = 2372;
var font = "'Liberation Sans', Arial, sans-serif";
var rowTop = [1.5, 521, 1043.5, 1563.5];
var rowBottom = [414.5, 937.5, 1459.5, 1980.5];
var leftX = [256, 2132], rightX = [2235.7, 2827.3];
var simColors = ["#ff0000", "#00a000", "#ffa500", "#b040f0"];
var drawOrder = [0, 2, 1, 3];
var rainColor = "#add8e6";

var svg = d3.select("#chart").append("svg")
  .attr("width", W).attr("height", H);
svg.append("rect").attr("width", W).attr("height", H).attr("fill", "white");

var rainDepth = d3.scaleLinear().domain([0, 25]).range([0, 412.5]);

panels.forEach(function(p, i) {
  var top = rowTop[i], bottom = rowBottom[i];
  var start = new Date(startTimes[i]);
  var at = function(h) { return new Date(+start + h * 36e5); };

  var x = d3.scaleUtc().domain([start, at(300)]).range(leftX);
  var y = d3.scaleLinear().domain([0, runoffMax[i]]).range([bottom, top]);

  var g = svg.append("g");
  var clipId = "clipL" + i;
  g.append("clipPath").attr("id", clipId).append("rect")
    .attr("x", leftX[0]).attr("y", top)
    .attr("width", leftX[1] - leftX[0]).attr("height", bottom - top + 2);

  // rainfall hanging from the top
  g.append("g").attr("clip-path", "url(#" + clipId + ")")
    .selectAll("rect").data(p.rain).enter().append("rect")
    .attr("x", function(d) { return x(at(d[0])); })
    .attr("width", function(d) { return x(at(d[1])) - x(at(d[0])); })
    .attr("y", top)
    .attr("height", function(d) { return rainDepth(d[2]); })
    .attr("fill", rainColor);

  // box
  g.append("rect").attr("x", leftX[0]).attr("y", top)
    .attr("width", leftX[1] - leftX[0]).attr("height", bottom - top)
    .attr("fill", "none").attr("stroke", "black").attr("stroke-width", 3.5);

  var line = d3.line()
    .x(function(d) { return x(at(d[0])); })
    .y(function(d) { return y(d[1]); });

  var lines = g.append("g").attr("clip-path", "url(#" + clipId + ")")
    .attr("fill", "none").attr("stroke-linejoin", "round").attr("stroke-linecap", "round");
  lines.append("path").datum(p.obs).attr("d", line)
    .attr("stroke", "black").attr("stroke-width", 7);
  drawOrder.forEach(function(k) {
    lines.append("path").datum(p.sims[k]).attr("d", line)
      .attr("stroke", simColors[k]).attr("stroke-width", 3.5);
  });

  // y axis, labels parallel to the axis
  var yAxis = g.append("g").attr("transform", "translate(" + leftX[0] + ",0)")
    .call(d3.axisLeft(y).tickValues(runoffTicks[i]).tickSize(28)
      .tickFormat(function(d) {
        if (i < 2) return d;
        return d % 1 === 0 ? d3.format(".1f")(d) : "";
      }));
  yAxis.select(".domain").remove();
  yAxis.selectAll(".tick line").attr("stroke-width", 3.5);
  yAxis.selectAll(".tick text")
    .attr("x", null).attr("dy", null)
    .attr("transform", "translate(-77,0) rotate(-90)")
    .attr("text-anchor", "middle").attr("dominant-baseline", "central")
    .attr("font-size", 44).attr("font-family", font);

  // date axis
  var xAxis = g.append("g").attr("transform", "translate(0," + bottom + ")")
    .call(d3.axisBottom(x).tickValues(dayTicks[i].map(function(s) { return new Date(s + "T00:00:00Z"); }))
      .tickSize(27).tickFormat(d3.utcFormat("%-d %b")));
  xAxis.select(".domain").remove();
  xAxis.selectAll(".tick line").attr("stroke-width", 3.5);
  xAxis.selectAll(".tick text")
    .attr("y", 80).attr("dy", null).attr("dominant-baseline", "central")
    .attr("font-size", 44).attr("font-family", font);

  // legend inside the panel
  var leg = g.append("g");
  var legBox = leg.append("rect").attr("x", leftX[0]).attr("y", top)
    .attr("height", 155).attr("fill", "white").attr("fill-opacity", 0.5)
    .attr("stroke", "black").attr("stroke-width", 3.5);
  leg.append("line").attr("x1", 295).attr("x2", 374)
    .attr("y1", top + 52).attr("y2", top + 52)
    .attr("stroke", rainColor).attr("stroke-width", 28).attr("stroke-linecap", "round");
  leg.append("line").attr("x1", 296).attr("x2", 374)
    .attr("y1", top + 103).attr("y2", top + 103)
    .attr("stroke", "black").attr("stroke-width", 16).attr("stroke-linecap", "round");
  leg.append("text").attr("x", 414).attr("y", top + 52)
    .attr("dominant-baseline", "central").attr("font-size", 44).text("Rainfall");
  var qt = leg.append("text").attr("x", 414).attr("y", top + 104)
    .attr("dominant-baseline", "central").attr("font-size", 44)
    .text("Qobs (" + stations[i] + ")");
  legBox.attr("width", 414 + qt.node().getComputedTextLength() + 18 - leftX[0]);

  // ---- accumulated volume panel ----
  var xc = d3.scaleLinear().domain([0, 4379]).range(rightX);
  var yc = d3.scaleLinear().domain([0, cumMax[i]]).range([bottom, top]);
  var clipR = "clipR" + i;
  g.append("clipPath").attr("id", clipR).append("rect")
    .attr("x", rightX[0]).attr("y", top)
    .attr("width", rightX[1] - rightX[0]).attr("height", bottom - top + 2);

  g.append("rect").attr("x", rightX[0]).attr("y", top)
    .attr("width", rightX[1] - rightX[0]).attr("height", bottom - top)
    .attr("fill", "none").attr("stroke", "black").attr("stroke-width", 3.5);

  var cline = d3.line()
    .x(function(d) { return xc(d[0]); })
    .y(function(d) { return yc(d[1]); });
  var clines = g.append("g").attr("clip-path", "url(#" + clipR + ")")
    .attr("fill", "none").attr("stroke-width", 6).attr("stroke-linejoin", "round");
  clines.append("path").datum(p.cumRain).attr("d", cline).attr("stroke", rainColor);
  clines.append("path").datum(p.cumObs).attr("d", cline).attr("stroke", "black");
  drawOrder.forEach(function(k) {
    clines.append("path").datum(p.cumSims[k]).attr("d", cline).attr("stroke", simColors[k]);
  });

  var yAxisR = g.append("g").attr("transform", "translate(" + rightX[1] + ",0)")
    .call(d3.axisRight(yc).tickValues(cumTicks[i]).tickSize(29).tickPadding(26)
      .tickFormat(function(d) { return d % 200 === 0 ? d : ""; }));
  yAxisR.select(".domain").remove();
  yAxisR.selectAll(".tick line").attr("stroke-width", 3.5);
  yAxisR.selectAll(".tick text").attr("dy", null).attr("dominant-baseline", "central")
    .attr("font-size", 42).attr("font-family", font);

  if (i === 3) {
    var xAxisR = g.append("g").attr("transform", "translate(0," + bottom + ")")
      .call(d3.axisBottom(xc).tickValues(hourTicks).tickSize(26).tickFormat(d3.format("d")));
    xAxisR.select(".domain").remove();
    xAxisR.selectAll(".tick line").attr("stroke-width", 3.5);
    xAxisR.selectAll(".tick text").attr("y", 78.5).attr("dy", null)
      .attr("dominant-baseline", "central")
      .attr("font-size", 42).attr("font-family", font);
  }

  var rleg = g.append("g");
  var rbox = rleg.append("rect").attr("x", rightX[0]).attr("y", top)
    .attr("height", 103).attr("fill", "white")
    .attr("stroke", "black").attr("stroke-width", 3.5);
  var rt = rleg.append("text").attr("x", 2315).attr("y", top + 51)
    .attr("dominant-baseline", "central").attr("font-size", 42).text(stations[i]);
  rbox.attr("width", 2315 + rt.node().getComputedTextLength() + 22 - rightX[0]);
});

// axis titles
svg.append("text").attr("transform", "translate(26,1198) rotate(-90)")
  .attr("text-anchor", "middle").attr("dominant-baseline", "central")
  .attr("font-size", 45).text("Runoff (mm)");
svg.append("text").attr("transform", "translate(3067,1257) rotate(-90)")
  .attr("text-anchor", "middle").attr("dominant-baseline", "central")
  .attr("font-size", 45).text("Accumulated volume (mm)");
svg.append("text").attr("x", 1542).attr("y", 2245)
  .attr("text-anchor", "middle").attr("dominant-baseline", "central")
  .attr("font-size", 45).text("Date and time");

// bottom legend, two columns
var legCols = [743, 1572], legRows = [2295, 2346.5];
var legItems = [[0, 0, 0], [1, 0, 1], [2, 1, 0], [3, 1, 1]];
legItems.forEach(function(it) {
  var cx = legCols[it[1]], cy = legRows[it[2]];
  svg.append("line").attr("x1", cx).attr("x2", cx + 77).attr("y1", cy).attr("y2", cy)
    .attr("stroke", simColors[it[0]]).attr("stroke-width", 11).attr("stroke-linecap", "round");
  svg.append("text").attr("x", cx + 117).attr("y", cy)
    .attr("dominant-baseline", "central").attr("font-size", 44).text(simLabels[it[0]]);
});
</script>
</body>
</html>
